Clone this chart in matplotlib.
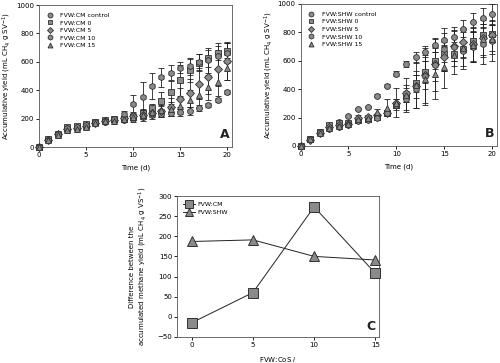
import matplotlib
matplotlib.use("Agg")
import matplotlib.pyplot as plt
from matplotlib.lines import Line2D
import numpy as np

days = list(range(21))

# Panel A: FVW:CM
a_labels = ["FVW:CM control", "FVW:CM 0", "FVW:CM 5", "FVW:CM 10", "FVW:CM 15"]
a_control = [0, 50, 88, 118, 128, 138, 168, 178, 183, 193, 198, 210, 225, 235, 242, 250, 255, 275, 295, 330, 390]
a_cm0 = [0, 55, 95, 142, 150, 160, 178, 188, 196, 200, 212, 240, 272, 325, 385, 470, 540, 595, 625, 660, 680]
a_cm5 = [0, 50, 90, 126, 136, 146, 172, 182, 190, 205, 218, 228, 240, 252, 282, 335, 382, 445, 495, 550, 605]
a_cm10 = [0, 52, 92, 132, 142, 152, 176, 186, 196, 235, 305, 355, 430, 490, 525, 560, 570, 600, 610, 640, 665]
a_cm15 = [0, 48, 86, 120, 130, 140, 170, 180, 186, 198, 210, 226, 245, 258, 268, 290, 330, 365, 420, 460, 560]
a_err_control = [0, 5, 8, 10, 10, 10, 10, 10, 10, 15, 20, 25, 25, 25, 25, 30, 30, 20, 15, 15, 15]
a_err_cm0 = [0, 5, 8, 10, 10, 10, 10, 10, 10, 15, 20, 30, 30, 60, 80, 110, 80, 60, 60, 50, 50]
a_err_cm5 = [0, 5, 8, 10, 10, 10, 10, 10, 10, 15, 20, 30, 30, 40, 60, 80, 100, 110, 120, 120, 130]
a_err_cm10 = [0, 5, 8, 10, 10, 10, 10, 10, 10, 20, 60, 100, 90, 70, 50, 40, 60, 55, 90, 90, 75]
a_err_cm15 = [0, 5, 8, 10, 10, 10, 10, 10, 10, 15, 20, 30, 30, 40, 50, 60, 70, 80, 90, 100, 90]

# Panel B: FVW:SHW
b_labels = ["FVW:SHW control", "FVW:SHW 0", "FVW:SHW 5", "FVW:SHW 10", "FVW:SHW 15"]
b_control = [0, 50, 100, 140, 170, 210, 260, 275, 355, 425, 510, 575, 625, 665, 710, 745, 770, 825, 870, 900, 930]
b_shw0 = [0, 48, 95, 150, 160, 165, 180, 190, 205, 230, 285, 350, 440, 520, 600, 650, 645, 680, 740, 780, 790]
b_shw5 = [0, 45, 92, 130, 145, 155, 195, 205, 215, 235, 300, 370, 420, 500, 580, 630, 705, 730, 720, 760, 780]
b_shw10 = [0, 50, 98, 120, 135, 150, 175, 180, 195, 230, 290, 330, 400, 490, 570, 680, 700, 670, 700, 720, 740]
b_shw15 = [0, 47, 94, 128, 140, 158, 190, 200, 240, 270, 305, 360, 430, 470, 510, 555, 640, 690, 710, 750, 750]
b_err_control = [0, 5, 8, 8, 8, 8, 8, 8, 8, 8, 15, 20, 40, 40, 50, 50, 40, 60, 70, 70, 70]
b_err_shw0 = [0, 5, 8, 10, 10, 10, 10, 10, 10, 15, 20, 40, 60, 80, 60, 60, 50, 60, 60, 60, 60]
b_err_shw5 = [0, 5, 8, 10, 10, 10, 10, 10, 10, 15, 30, 60, 80, 100, 120, 100, 110, 100, 120, 130, 110]
b_err_shw10 = [0, 5, 8, 10, 10, 10, 10, 10, 10, 15, 40, 80, 130, 200, 180, 150, 140, 130, 110, 140, 140]
b_err_shw15 = [0, 5, 8, 10, 10, 10, 25, 20, 20, 60, 100, 120, 160, 170, 180, 150, 130, 130, 120, 110, 100]

# Panel C
c_x = [0, 5, 10, 15]
c_cm = [-15, 60, 273, 108]
c_shw = [187, 191, 150, 141]

plt.rcParams['font.family'] = ['DejaVu Sans']
fs = 5

fig = plt.figure(figsize=(5.0, 3.63), dpi=100)

markers = ['o', 's', 'D', 'h', '^']
msizes = [4.2, 4.0, 3.6, 4.5, 4.2]
fill = '#8a8a8a'
edge = '#303030'


def ts_panel(ax, series, errs, labels, letter):
    handles = []
    for y, e, m, ms, lab in zip(series, errs, markers, msizes, labels):
        ax.errorbar(days, y, yerr=e, fmt=m, ms=ms, mfc=fill, mec=edge, mew=0.6,
                    ecolor='#202020', elinewidth=0.6, capsize=2.0, capthick=0.6,
                    clip_on=False, zorder=3)
        handles.append(Line2D([], [], ls='none', marker=m, ms=ms * 0.85, mfc=fill,
                              mec=edge, mew=0.6, label=lab))
    ax.set_xlim(0, 20.5)
    ax.set_ylim(0, 1000)
    ax.set_xticks([0, 5, 10, 15, 20])
    ax.set_yticks([0, 200, 400, 600, 800, 1000])
    ax.tick_params(labelsize=fs, length=2, width=0.6, pad=1.5, direction='out')
    for s in ax.spines.values():
        s.set_linewidth(0.6)
        s.set_color('#555555')
    ax.set_xlabel('Time (d)', fontsize=fs, labelpad=5)
    ax.set_ylabel('Accumulative yield (mL CH$_4$ g SV$^{-1}$)', fontsize=fs, labelpad=2)
    ax.legend(handles=handles, loc='upper left', fontsize=fs - 0.5, frameon=False,
              handletextpad=1.2, labelspacing=0.35, borderaxespad=0.8,
              handlelength=1.0)
    ax.text(0.985, 0.04, letter, transform=ax.transAxes, ha='right', va='bottom',
            fontsize=9, fontweight='bold', color='#222222')


axA = fig.add_axes([0.078, 0.595, 0.386, 0.391])
ts_panel(axA, [a_control, a_cm0, a_cm5, a_cm10, a_cm15],
         [a_err_control, a_err_cm0, a_err_cm5, a_err_cm10, a_err_cm15], a_labels, 'A')

axB = fig.add_axes([0.601, 0.598, 0.393, 0.391])
ts_panel(axB, [b_control, b_shw0, b_shw5, b_shw10, b_shw15],
         [b_err_control, b_err_shw0, b_err_shw5, b_err_shw10, b_err_shw15], b_labels, 'B')

axC = fig.add_axes([0.354, 0.072, 0.404, 0.388])
axC.plot(c_x, c_cm, marker='s', ms=6.5, mfc=fill, mec=edge, mew=0.7, color='#222222',
         lw=0.7, label='FVW:CM', clip_on=False, zorder=3)
axC.plot(c_x, c_shw, marker='^', ms=6.5, mfc=fill, mec=edge, mew=0.7, color='#222222',
         lw=0.7, label='FVW:SHW', clip_on=False, zorder=3)
axC.set_xlim(-1.2, 15.3)
axC.set_ylim(-50, 300)
axC.set_xticks([0, 5, 10, 15])
axC.set_yticks([-50, 0, 50, 100, 150, 200, 250, 300])
axC.tick_params(labelsize=fs, length=2, width=0.6, pad=1.5, direction='out')
for s in axC.spines.values():
    s.set_linewidth(0.6)
    s.set_color('#555555')
axC.set_xlabel('FVW:CoS $i$', fontsize=fs, labelpad=5)
axC.set_ylabel('Difference between the\naccumulated methane yield (mL CH$_4$ g VS$^{-1}$)',
               fontsize=fs, labelpad=6)
axC.legend(loc='upper left', fontsize=fs - 0.5, frameon=False, handlelength=2.0,
           labelspacing=0.4, borderaxespad=0.5, handletextpad=0.4, markerscale=0.8)
axC.text(0.985, 0.03, 'C', transform=axC.transAxes, ha='right', va='bottom',
         fontsize=9, fontweight='bold', color='#222222')

fig.savefig('out.png', dpi=100)
